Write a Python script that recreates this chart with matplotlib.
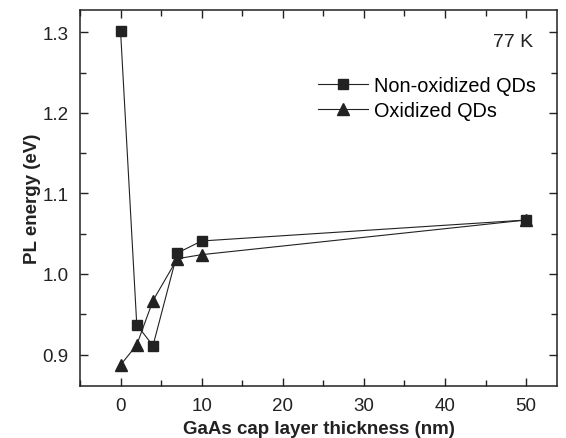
import matplotlib
matplotlib.use('Agg')
import matplotlib.pyplot as plt
from matplotlib.ticker import MultipleLocator

plt.rcParams['font.family'] = ['Liberation Sans', 'DejaVu Sans']

thickness = [0, 2, 4, 7, 10, 50]
non_oxidized = [1.302, 0.937, 0.911, 1.026, 1.041, 1.067]
oxidized = [0.887, 0.912, 0.967, 1.019, 1.024, 1.067]

fig = plt.figure(figsize=(5.66, 4.39), dpi=100)
ax = fig.add_axes([0.1413, 0.1185, 0.8427, 0.857])

ink = '#222222'
ax.plot(thickness, non_oxidized, '-s', color=ink, lw=0.8, ms=7, label='Non-oxidized QDs')
ax.plot(thickness, oxidized, '-^', color=ink, lw=0.8, ms=9, label='Oxidized QDs')

ax.set_xlim(-5, 53.8)
ax.set_ylim(0.861, 1.328)
ax.xaxis.set_major_locator(MultipleLocator(10))
ax.xaxis.set_minor_locator(MultipleLocator(5))
ax.yaxis.set_major_locator(MultipleLocator(0.1))
ax.yaxis.set_minor_locator(MultipleLocator(0.05))
ax.yaxis.set_major_formatter(matplotlib.ticker.FormatStrFormatter('%.1f'))
ax.tick_params(which='both', direction='in', top=True, right=True, labelsize=13.5, colors=ink)
ax.tick_params(which='major', length=6, width=1)
ax.tick_params(which='minor', length=4, width=1)
ax.tick_params(axis='x', pad=8)
ax.tick_params(axis='y', pad=8)
for s in ax.spines.values():
    s.set_linewidth(1.1)
    s.set_color(ink)

ax.set_xlabel('GaAs cap layer thickness (nm)', fontsize=13.5, fontweight='bold', color=ink, labelpad=4)
ax.set_ylabel('PL energy (eV)', fontsize=13.5, fontweight='bold', color=ink, labelpad=1)

ax.text(0.95, 0.915, '77 K', transform=ax.transAxes, ha='right', va='center', fontsize=14, color=ink)
ax.legend(loc='upper right', bbox_to_anchor=(0.985, 0.86), frameon=False, fontsize=14.3,
          handlelength=2.5, handletextpad=0.3, labelspacing=0.3, borderaxespad=0.3)

fig.savefig('out.png', dpi=100)
